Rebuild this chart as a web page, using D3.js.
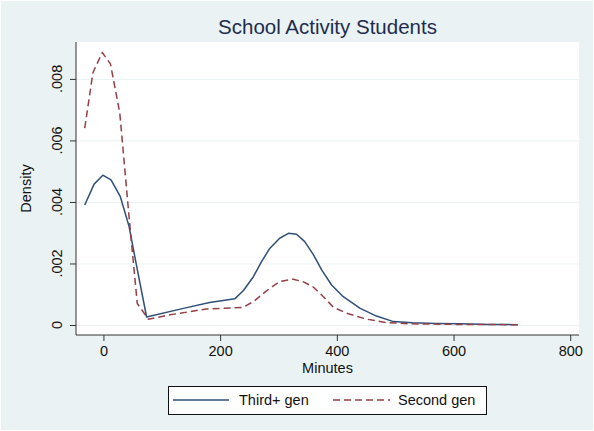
<!DOCTYPE html>
<html>
<head>
<meta charset="utf-8">
<script src="https://cdn.jsdelivr.net/npm/d3@7"></script>
<style>
  body { margin: 0; background: #ffffff; }
  text { font-family: "Liberation Sans", Arial, sans-serif; }
</style>
</head>
<body>
<script>
// kernel density
var thirdMinutes = [-32, -16, -1, 13, 29, 44, 56, 74, 137, 182, 225, 240, 257, 271, 285, 302, 317, 331, 345, 360, 374, 391, 411, 440, 468, 497, 530, 570, 611, 660, 710];
var thirdDensity = [.0039, .00458, .00487, .00472, .00417, .0032, .002, .00026, .00054, .00073, .00085, .00112, .00157, .00206, .00249, .00282, .00298, .00295, .00271, .00228, .00179, .0013, .00092, .00054, .00029, .00011, .00007, .00005, .00004, .00002, .00001];

var secondMinutes = [-32, -18, -2, 12, 28, 44, 58, 77, 114, 176, 239, 257, 280, 302, 325, 342, 360, 377, 394, 417, 451, 485, 525, 600, 710];
var secondDensity = [.0064, .0082, .00886, .00849, .0069, .0035, .0007, .00019, .00033, .00052, .00057, .00076, .00112, .00141, .00149, .00141, .00123, .00092, .00058, .00038, .00019, .00008, .00004, .00002, .00001];

var xTicks = [0, 200, 400, 600, 800];
var yTicks = [0, .002, .004, .006, .008];
var yTickLabels = ["0", ".002", ".004", ".006", ".008"];
var seriesNames = ["Third+ gen", "Second gen"];

var width = 594, height = 431;
var plot = { left: 76, right: 579, top: 42, bottom: 335 };

var svg = d3.select("body").append("svg")
  .attr("width", width)
  .attr("height", height);

// outer background
svg.append("rect")
  .attr("x", 1).attr("y", 1)
  .attr("width", width - 2).attr("height", height - 2)
  .attr("fill", "#eaf2f3");

svg.append("rect")
  .attr("x", plot.left).attr("y", plot.top)
  .attr("width", plot.right - plot.left).attr("height", plot.bottom - plot.top)
  .attr("fill", "#ffffff");

var x = d3.scaleLinear()
  .domain([-47, 815])
  .range([plot.left, plot.right]);

var y = d3.scaleLinear()
  .domain([-0.000325, 0.0092])
  .range([plot.bottom, plot.top]);

// gridlines
svg.append("g")
  .attr("class", "grid")
  .attr("transform", "translate(" + plot.left + ",0)")
  .call(d3.axisLeft(y).tickValues(yTicks).tickSize(-(plot.right - plot.left)).tickFormat(""))
  .call(function(g) {
    g.select(".domain").remove();
    g.selectAll("line").attr("stroke", "#eaf2f3").attr("stroke-width", 1);
  });

// y axis
svg.append("g")
  .attr("transform", "translate(" + plot.left + ",0)")
  .call(d3.axisLeft(y).tickValues(yTicks).tickSize(6).tickFormat(""))
  .call(function(g) {
    g.select(".domain").attr("stroke", "#333").attr("d", "M0," + plot.top + "V" + plot.bottom);
    g.selectAll("line").attr("stroke", "#333");
  });

svg.append("g")
  .selectAll("text")
  .data(yTicks)
  .enter()
  .append("text")
  .attr("transform", function(d) { return "translate(62," + y(d) + ") rotate(-90)"; })
  .attr("text-anchor", "middle")
  .attr("font-size", 14.5)
  .attr("fill", "#111")
  .text(function(d, i) { return yTickLabels[i]; });

// x axis
svg.append("g")
  .attr("transform", "translate(0," + plot.bottom + ")")
  .call(d3.axisBottom(x).tickValues(xTicks).tickSize(6).tickFormat(d3.format("d")))
  .call(function(g) {
    g.select(".domain").attr("stroke", "#333").attr("d", "M" + plot.left + ",0H" + plot.right);
    g.selectAll("line").attr("stroke", "#333");
    g.selectAll("text")
      .attr("font-size", 14.5)
      .attr("font-family", "Liberation Sans, Arial, sans-serif")
      .attr("fill", "#111")
      .attr("dy", null)
      .attr("y", 21);
  });

// labels
svg.append("text")
  .attr("x", (plot.left + plot.right) / 2)
  .attr("y", 373)
  .attr("text-anchor", "middle")
  .attr("font-size", 14.5)
  .attr("fill", "#111")
  .text("Minutes");

svg.append("text")
  .attr("transform", "translate(31," + ((plot.top + plot.bottom) / 2) + ") rotate(-90)")
  .attr("text-anchor", "middle")
  .attr("font-size", 14.5)
  .attr("fill", "#111")
  .text("Density");

svg.append("text")
  .attr("x", (plot.left + plot.right) / 2)
  .attr("y", 34)
  .attr("text-anchor", "middle")
  .attr("font-size", 20.5)
  .attr("fill", "#1e2d4e")
  .text("School Activity Students");

// lines (straight segments, like the original)
var line = d3.line()
  .x(function(d) { return x(d[0]); })
  .y(function(d) { return y(d[1]); });

var thirdData = d3.zip(thirdMinutes, thirdDensity);
var secondData = d3.zip(secondMinutes, secondDensity);

svg.append("path")
  .attr("d", line(thirdData))
  .attr("fill", "none")
  .attr("stroke", "#2f5078")
  .attr("stroke-width", 1.5)
  .attr("stroke-linejoin", "round");

svg.append("path")
  .attr("d", line(secondData))
  .attr("fill", "none")
  .attr("stroke", "#953f46")
  .attr("stroke-width", 1.5)
  .attr("stroke-linejoin", "round")
  .attr("stroke-dasharray", "7,4");

// legend
var legend = svg.append("g");
legend.append("rect")
  .attr("x", 168.5).attr("y", 386.5)
  .attr("width", 318).attr("height", 28)
  .attr("fill", "#ffffff")
  .attr("stroke", "#111")
  .attr("stroke-width", 1);

legend.append("line")
  .attr("x1", 173).attr("x2", 229)
  .attr("y1", 400).attr("y2", 400)
  .attr("stroke", "#2f5078").attr("stroke-width", 1.5);
legend.append("text")
  .attr("x", 239).attr("y", 405)
  .attr("font-size", 14.5).attr("fill", "#111")
  .text(seriesNames[0]);

legend.append("line")
  .attr("x1", 333).attr("x2", 390)
  .attr("y1", 400).attr("y2", 400)
  .attr("stroke", "#953f46").attr("stroke-width", 1.5)
  .attr("stroke-dasharray", "7,4");
legend.append("text")
  .attr("x", 398).attr("y", 405)
  .attr("font-size", 14.5).attr("fill", "#111")
  .text(seriesNames[1]);
</script>
</body>
</html>
